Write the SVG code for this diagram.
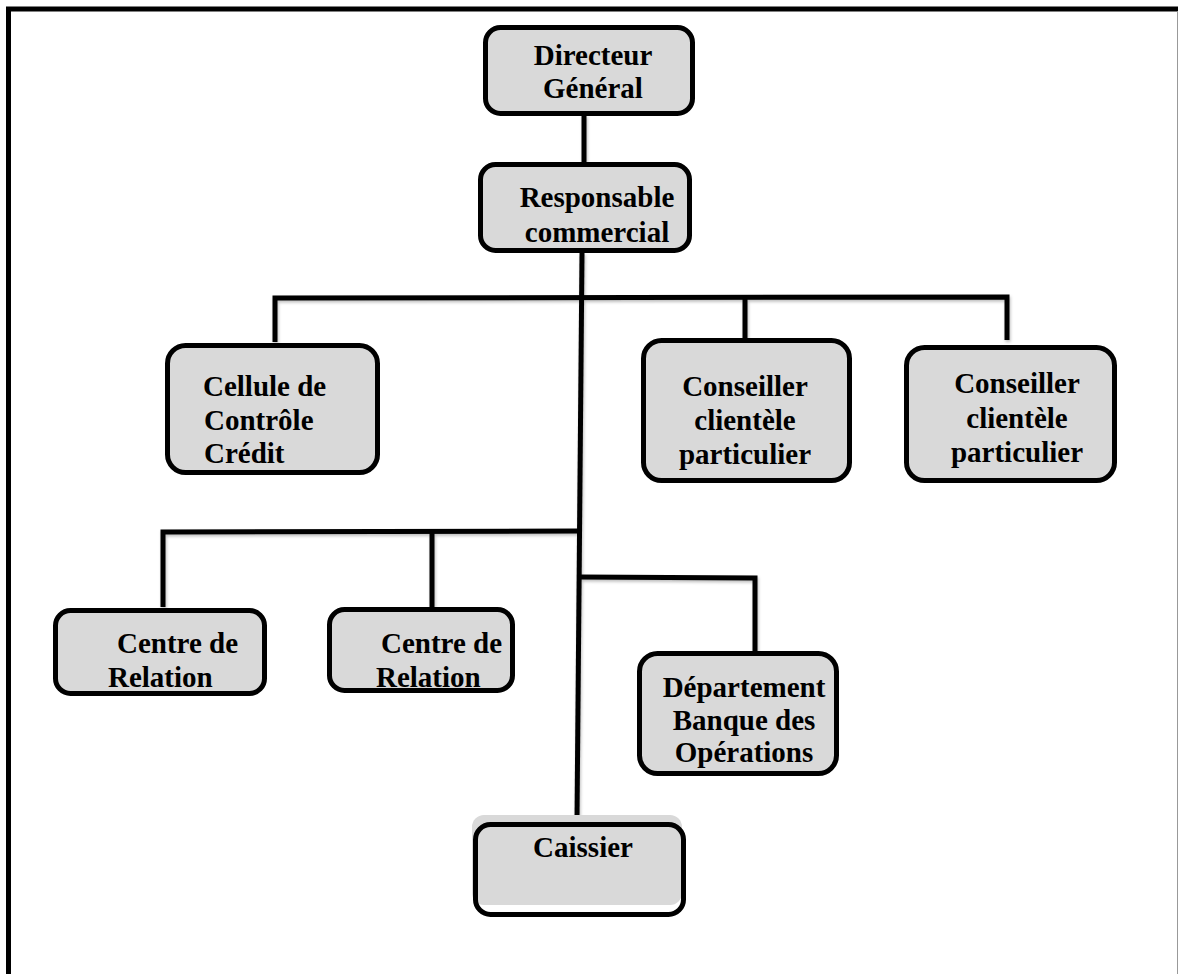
<svg xmlns="http://www.w3.org/2000/svg" width="1178" height="974" viewBox="0 0 1178 974">
  <style>
    .box { fill: #d9d9d9; stroke: #000; stroke-width: 5; }
    .lbl { font-family: "Liberation Serif", "Times New Roman", serif; font-weight: bold; font-size: 29px; fill: #000; }
    .mid { text-anchor: middle; }
    .wire { fill: none; stroke: #000; stroke-width: 5; stroke-linejoin: miter; stroke-linecap: butt; }
  </style>
  <defs>
    <filter id="soft" x="-5%" y="-5%" width="110%" height="120%">
      <feDropShadow dx="1" dy="2" stdDeviation="1.5" flood-color="#000" flood-opacity="0.25"/>
    </filter>
  </defs>

  <rect width="1178" height="974" fill="#fff"/>

  <!-- page frame -->
  <g id="frame">
    <line x1="8.5" y1="7" x2="8.5" y2="974" stroke="#000" stroke-width="5"/>
    <line x1="6" y1="9" x2="1178" y2="9" stroke="#000" stroke-width="5"/>
    <line x1="1177.5" y1="11" x2="1177.5" y2="974" stroke="#999" stroke-width="1"/>
  </g>

  <!-- connectors -->
  <g id="connectors" class="wire" filter="url(#soft)">
    <line x1="584" y1="115" x2="584" y2="162"/>
    <line x1="582" y1="253" x2="577" y2="818"/>
    <polyline points="275,342 275,298 1007,297 1007,340"/>
    <line x1="745" y1="297" x2="745" y2="340"/>
    <polyline points="163,607 163,532 581,531"/>
    <line x1="432" y1="532" x2="432" y2="607"/>
    <polyline points="580,577 755,578 755,652"/>
  </g>

  <g id="directeur-general">
    <rect class="box" x="485.5" y="27.5" width="207" height="86" rx="15"/>
    <text class="lbl mid" x="593" y="65">Directeur</text>
    <text class="lbl mid" x="593" y="98">Général</text>
  </g>

  <g id="responsable-commercial">
    <rect class="box" x="480.5" y="164.5" width="209" height="86" rx="15"/>
    <text class="lbl mid" x="597" y="207">Responsable</text>
    <text class="lbl mid" x="597" y="242">commercial</text>
  </g>

  <g id="cellule-controle-credit">
    <rect class="box" x="167.5" y="345.5" width="210" height="127" rx="18"/>
    <text class="lbl" x="203" y="396">Cellule de</text>
    <text class="lbl" x="204" y="430">Contrôle</text>
    <text class="lbl" x="204" y="463">Crédit</text>
  </g>

  <g id="conseiller-1">
    <rect class="box" x="643.5" y="340.5" width="206" height="140" rx="18"/>
    <text class="lbl mid" x="745" y="396">Conseiller</text>
    <text class="lbl mid" x="745" y="430">clientèle</text>
    <text class="lbl mid" x="745" y="464">particulier</text>
  </g>

  <g id="conseiller-2">
    <rect class="box" x="906.5" y="347.5" width="208" height="133" rx="18"/>
    <text class="lbl mid" x="1017" y="393">Conseiller</text>
    <text class="lbl mid" x="1017" y="428">clientèle</text>
    <text class="lbl mid" x="1017" y="462">particulier</text>
  </g>

  <g id="centre-relation-1">
    <rect class="box" x="55.5" y="610.5" width="209" height="83" rx="15"/>
    <text class="lbl" x="117" y="653">Centre de</text>
    <text class="lbl" x="108" y="687">Relation</text>
  </g>

  <g id="centre-relation-2">
    <rect class="box" x="329.5" y="609.5" width="183" height="81" rx="15"/>
    <text class="lbl" x="381" y="653">Centre de</text>
    <text class="lbl" x="376" y="687">Relation</text>
  </g>

  <g id="departement-banque">
    <rect class="box" x="639.5" y="653.5" width="197" height="120" rx="18"/>
    <text class="lbl mid" x="744" y="697">Département</text>
    <text class="lbl mid" x="744" y="730">Banque des</text>
    <text class="lbl mid" x="744" y="762">Opérations</text>
  </g>

  <g id="caissier">
    <rect x="472" y="815" width="210" height="90" rx="12" fill="#d9d9d9"/>
    <rect x="475.5" y="824.5" width="208" height="90" rx="15" fill="none" stroke="#000" stroke-width="5"/>
    <text class="lbl mid" x="583" y="857">Caissier</text>
  </g>
</svg>
